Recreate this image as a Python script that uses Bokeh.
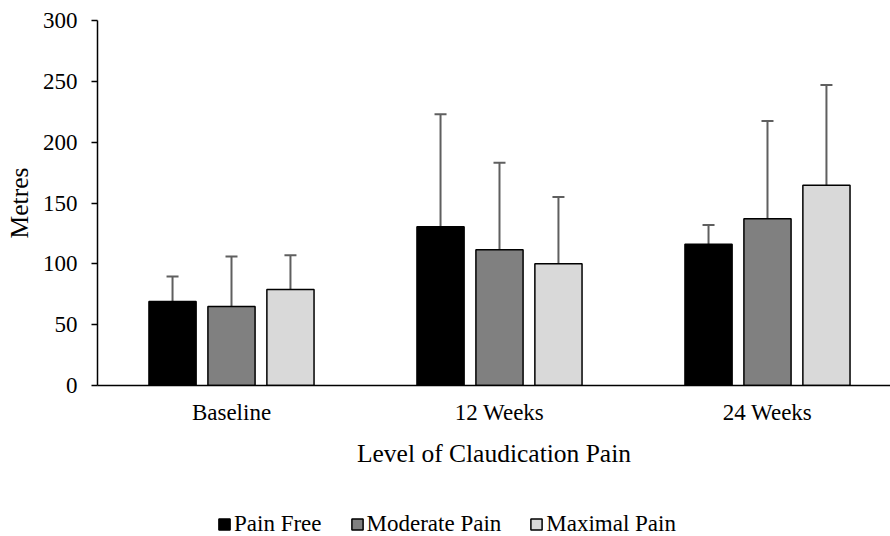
import numpy as np
from bokeh.plotting import figure
from bokeh.layouts import column
from bokeh.models import (ColumnDataSource, Range1d, FixedTicker, Whisker, TeeHead,
                          Legend, LegendItem)
from bokeh.embed import file_html
from bokeh.resources import INLINE

# Walking distance by stage and claudication pain level
categories = ["Baseline", "12 Weeks", "24 Weeks"]
series = ["Pain Free", "Moderate Pain", "Maximal Pain"]
pain_free = [69, 130.5, 116]
moderate_pain = [65, 111.5, 137]
maximal_pain = [79, 100, 164.5]
pain_free_sd = [20.5, 92.5, 16]
moderate_pain_sd = [41, 71.5, 80.5]
maximal_pain_sd = [28, 55, 82.5]
y_ticks = [0, 50, 100, 150, 200, 250, 300]

FONT = "Liberation Serif"
colors = ["#000000", "#808080", "#d9d9d9"]
offsets = [-0.22, 0.0, 0.22]
bar_w = 0.176

p = figure(width=890, height=470, output_backend="svg", toolbar_location=None,
           x_range=Range1d(-0.5, 2.459), y_range=Range1d(0, 300),
           min_border_left=97, min_border_right=0, min_border_top=20,
           min_border_bottom=85)
p.outline_line_color = None
p.xgrid.visible = False
p.ygrid.visible = False
p.background_fill_color = "white"
p.border_fill_color = "white"

x_idx = list(range(len(categories)))
for vals, sds, off, col in zip([pain_free, moderate_pain, maximal_pain],
                               [pain_free_sd, moderate_pain_sd, maximal_pain_sd],
                               offsets, colors):
    xs = [i + off for i in x_idx]
    src = ColumnDataSource(dict(x=xs, top=vals,
                                upper=[v + s for v, s in zip(vals, sds)]))
    # upper-only error bars (mean + SD)
    w = Whisker(source=src, base="x", lower="top", upper="upper",
                dimension="height", line_color="#5f5f5f", line_width=2,
                upper_head=TeeHead(size=12, line_color="#5f5f5f", line_width=2),
                lower_head=None, level="underlay")
    p.add_layout(w)
    p.vbar(x="x", top="top", width=bar_w, source=src, fill_color=col,
           line_color="black", line_width=1.5)

# y axis
p.yaxis.ticker = FixedTicker(ticks=y_ticks)
p.yaxis.axis_label = "Metres"
p.yaxis.axis_label_text_font = FONT
p.yaxis.axis_label_text_font_style = "normal"
p.yaxis.axis_label_text_font_size = "25.5px"
p.yaxis.axis_label_text_color = "black"
p.yaxis.axis_label_standoff = 6
p.yaxis.major_label_text_font = FONT
p.yaxis.major_label_text_font_size = "23px"
p.yaxis.major_label_text_color = "black"
p.yaxis.major_label_standoff = 14
p.yaxis.major_tick_out = 6
p.yaxis.major_tick_in = 0
p.yaxis.minor_tick_line_color = None
p.yaxis.axis_line_color = "black"
p.yaxis.axis_line_width = 1.5
p.yaxis.major_tick_line_color = "black"
p.yaxis.major_tick_line_width = 1.5

# x axis
p.xaxis.ticker = FixedTicker(ticks=x_idx)
p.xaxis.major_label_overrides = {i: c for i, c in zip(x_idx, categories)}
p.xaxis.axis_label = "Level of Claudication Pain"
p.xaxis.axis_label_text_font = FONT
p.xaxis.axis_label_text_font_style = "normal"
p.xaxis.axis_label_text_font_size = "25.5px"
p.xaxis.axis_label_text_color = "black"
p.xaxis.axis_label_standoff = 11
p.xaxis.major_label_text_font = FONT
p.xaxis.major_label_text_font_size = "23px"
p.xaxis.major_label_text_color = "black"
p.xaxis.major_label_standoff = 14
p.xaxis.major_tick_out = 0
p.xaxis.major_tick_in = 0
p.xaxis.major_tick_line_color = None
p.xaxis.minor_tick_line_color = None
p.xaxis.axis_line_color = "black"
p.xaxis.axis_line_width = 1.5

# legend strip under the chart; key bars carry no drawable height
lg = figure(width=890, height=66, output_backend="svg", toolbar_location=None,
            x_axis_type=None, y_axis_type=None,
            x_range=Range1d(0, 1), y_range=Range1d(0, 1),
            min_border=0)
lg.outline_line_color = None
lg.xgrid.visible = False
lg.ygrid.visible = False
keys = []
for col in colors:
    ksrc = ColumnDataSource(dict(x=np.array([0.5]), top=np.array([np.nan])))
    keys.append(lg.vbar(x="x", top="top", width=0.1, source=ksrc, fill_color=col,
                        line_color="black", line_width=1.5))
legend = Legend(items=[LegendItem(label=s, renderers=[r]) for s, r in zip(series, keys)],
                orientation="horizontal", location=(120, -1),
                glyph_width=14, glyph_height=14, label_standoff=3, spacing=28,
                label_text_font=FONT, label_text_font_size="23px",
                label_text_color="black",
                border_line_color=None, background_fill_alpha=0,
                margin=0, padding=0)
lg.add_layout(legend)

layout = column(p, lg, spacing=0)
open("out.html", "w").write(file_html(layout, INLINE))
